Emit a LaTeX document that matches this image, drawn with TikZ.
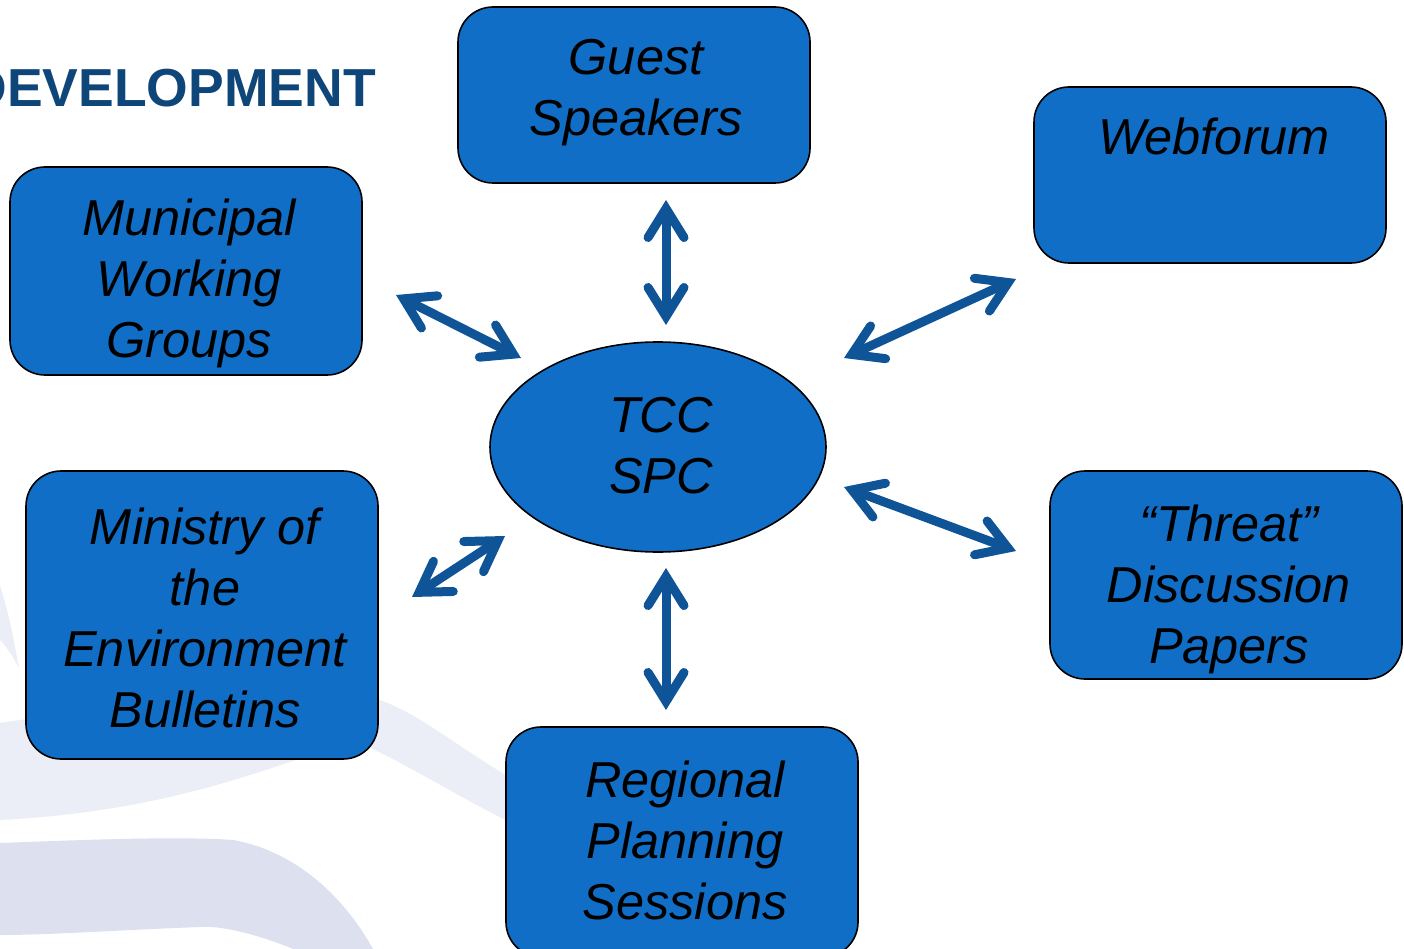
\documentclass[tikz,border=0pt]{standalone}
\usepackage{fontspec}
\setmainfont{Liberation Sans}
\usetikzlibrary{arrows.meta,shapes.geometric}
\definecolor{boxblue}{HTML}{116EC6}
\definecolor{arrowblue}{HTML}{0E5497}
\definecolor{titleblue}{HTML}{0F4679}
\definecolor{bandA}{HTML}{EBEEF6}
\definecolor{bandB}{HTML}{DCE0EF}
\tikzset{
  box/.style={draw=black, line width=1.6pt, fill=boxblue, rounded corners=35pt, inner sep=0pt},
  boxtext/.style={anchor=north, inner sep=0pt, align=center, font=\fontsize{50.5}{61}\selectfont\itshape},
  link/.style={draw=arrowblue, line width=9pt,
    {Straight Barb[length=29pt,width=36pt,line cap=round]}-{Straight Barb[length=29pt,width=36pt,line cap=round]}}
}
\begin{document}
\begin{tikzpicture}[x=1pt,y=-1pt]
\useasboundingbox (0,0) rectangle (1404,949);
% background swooshes
\fill[bandA] (0,585) .. controls (10,620) .. (19,668) .. controls (12,655) and (5,645) .. (0,640) -- cycle;
\fill[bandA] (0,723) .. controls (150,700) and (320,680) .. (380,700) .. controls (430,718) and (470,760) .. (560,805)
  -- (560,845) .. controls (480,812) and (420,770) .. (360,743) .. controls (300,750) and (200,810) .. (0,820) -- cycle;
\fill[bandB] (0,843) .. controls (80,840) and (180,836) .. (233,840) .. controls (290,850) and (340,890) .. (373,949)
  -- (293,949) .. controls (260,935) and (220,925) .. (200,927) .. controls (120,930) and (50,935) .. (0,935) -- cycle;
% title
\node[anchor=base east, inner sep=0pt, text=titleblue, font=\fontsize{53.5}{60}\selectfont\bfseries] (title) at (376,107) {DEVELOPMENT};
% boxes
\node[box, minimum width=352pt, minimum height=176pt] (guest) at (634,95) {};
\node[box, minimum width=352pt, minimum height=176pt] (web) at (1210,175) {};
\node[box, minimum width=352pt, minimum height=208pt] (muni) at (186,271) {};
\node[box, minimum width=352pt, minimum height=288pt] (min) at (202,615) {};
\node[box, minimum width=352pt, minimum height=208pt] (threat) at (1226,575) {};
\node[box, minimum width=352pt, minimum height=230pt] (reg) at (682,842) {};
\node[ellipse, draw=black, line width=1.6pt, fill=boxblue, minimum width=336pt, minimum height=210pt, inner sep=0pt] (tcc) at (658,447) {};
% texts
\node[boxtext] (guestT) at (636,39) {Guest\\Speakers};
\node[boxtext] (webT) at (1214,118) {Webforum};
\node[boxtext] (muniT) at (189,199) {Municipal\\Working\\Groups};
\node[boxtext] (minT) at (205,508) {Ministry of\\the\\Environment\\Bulletins};
\node[boxtext] (threatT) at (1229,505) {``Threat''\\Discussion\\Papers};
\node[boxtext] (regT) at (685,761) {Regional\\Planning\\Sessions};
\node[boxtext] (tccT) at (661,397) {TCC\\SPC};
% arrow end points
\coordinate (g1) at (666,200); \coordinate (g2) at (666,325);
\coordinate (m1) at (396,295); \coordinate (m2) at (521,358);
\coordinate (w1) at (844,358); \coordinate (w2) at (1016,279);
\coordinate (t1) at (844,487); \coordinate (t2) at (1016,551);
\coordinate (n1) at (412,597); \coordinate (n2) at (505,536);
\coordinate (r1) at (666,568); \coordinate (r2) at (666,710);
\draw[link] (g1) -- (g2);
\draw[link] (m1) -- (m2);
\draw[link] (w1) -- (w2);
\draw[link] (t1) -- (t2);
\draw[link] (n1) -- (n2);
\draw[link] (r1) -- (r2);
\end{tikzpicture}
\end{document}
